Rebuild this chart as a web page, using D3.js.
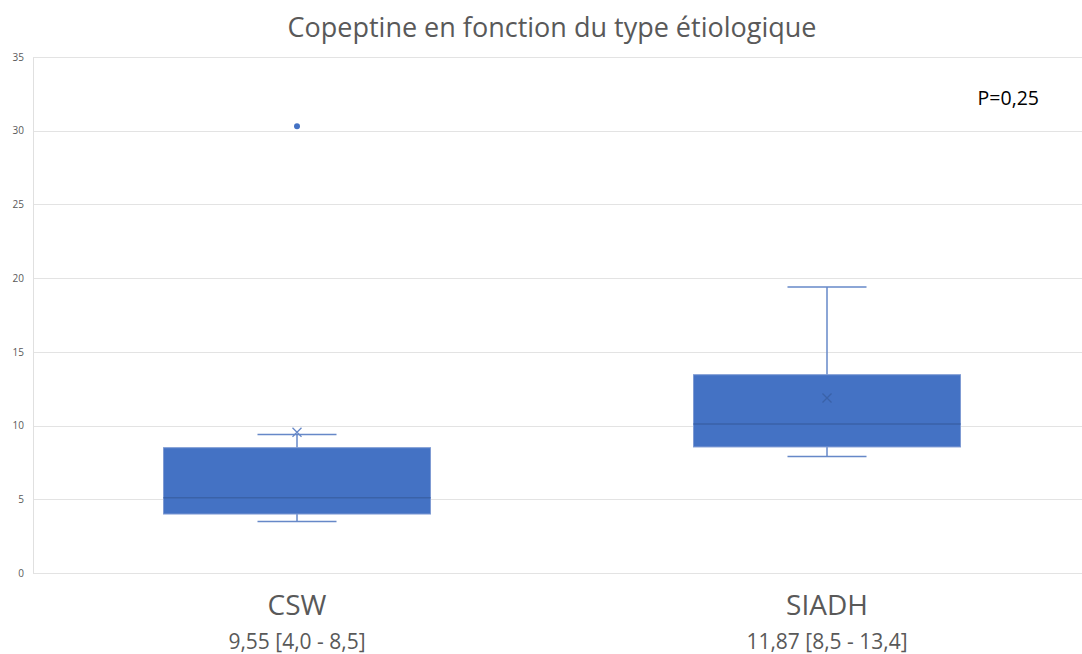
<!DOCTYPE html>
<html>
<head>
<meta charset="utf-8">
<script src="https://cdnjs.cloudflare.com/ajax/libs/d3/7.8.5/d3.min.js"></script>
<style>
  body { margin: 0; background: #fff; }
  text { font-family: "Open Sans", "Noto Sans", sans-serif; }
</style>
</head>
<body>
<div id="chart"></div>
<script>

var svgWidth = 1082;
var svgHeight = 654;

var margin = { top: 57, right: 0, bottom: 81, left: 33 };
var width = svgWidth - margin.left - margin.right;
var height = svgHeight - margin.top - margin.bottom;

// data
var categories = ["CSW", "SIADH"];
var subLabels = ["9,55 [4,0 - 8,5]", "11,87 [8,5 - 13,4]"];
var whiskerLow = [3.5, 7.9];
var q1 = [4.0, 8.55];
var medians = [5.1, 10.1];
var q3 = [8.5, 13.45];
var whiskerHigh = [9.4, 19.4];
var means = [9.55, 11.87];
var outliers = [[30.3], []];
var yTicks = [0, 5, 10, 15, 20, 25, 30, 35];

var boxColor = "#4472c4";
var lineColor = "#6688c8";

var svg = d3.select("#chart")
  .append("svg")
  .attr("width", svgWidth)
  .attr("height", svgHeight);

var chartGroup = svg.append("g")
  .attr("transform", `translate(${margin.left}, ${margin.top})`);

var xScale = d3.scaleBand()
  .domain(categories)
  .range([0, 1060])
  .paddingInner(0)
  .paddingOuter(0);

var yScale = d3.scaleLinear()
  .domain([0, 35])
  .range([height, 0]);

// gridlines
chartGroup.append("g")
  .selectAll("line")
  .data(yTicks)
  .enter()
  .append("line")
  .attr("x1", 0)
  .attr("x2", width)
  .attr("y1", d => Math.round(yScale(d)) + 0.5)
  .attr("y2", d => Math.round(yScale(d)) + 0.5)
  .attr("stroke", "#e3e3e3")
  .attr("stroke-width", 1);

// left axis
var leftAxis = d3.axisLeft(yScale).tickValues(yTicks).tickSize(0).tickPadding(9);
var yAxis = chartGroup.append("g").call(leftAxis);
yAxis.select(".domain").attr("stroke", "#e0e0e0");
yAxis.selectAll("text")
  .style("font-size", "10px")
  .style("fill", "#595959");

// title
svg.append("text")
  .attr("x", 552)
  .attr("y", 37)
  .attr("text-anchor", "middle")
  .style("font-size", "27px")
  .style("fill", "#595959")
  .text("Copeptine en fonction du type étiologique");

svg.append("text")
  .attr("x", 1039)
  .attr("y", 105)
  .attr("text-anchor", "end")
  .style("font-size", "19.5px")
  .style("fill", "#000")
  .text("P=0,25");

var boxWidth = 267;
var capWidth = 79;

categories.forEach(function(cat, i) {
  var cx = Math.round(xScale(cat) + xScale.bandwidth() / 2) - 1;
  var g = chartGroup.append("g");

  // whiskers
  g.append("line")
    .attr("x1", cx).attr("x2", cx)
    .attr("y1", yScale(whiskerHigh[i])).attr("y2", yScale(q3[i]))
    .attr("stroke", lineColor).attr("stroke-width", 1.5);
  g.append("line")
    .attr("x1", cx).attr("x2", cx)
    .attr("y1", yScale(q1[i])).attr("y2", yScale(whiskerLow[i]))
    .attr("stroke", lineColor).attr("stroke-width", 1.5);
  [whiskerHigh[i], whiskerLow[i]].forEach(function(v) {
    g.append("line")
      .attr("x1", cx - capWidth / 2).attr("x2", cx + capWidth / 2)
      .attr("y1", yScale(v)).attr("y2", yScale(v))
      .attr("stroke", lineColor).attr("stroke-width", 1.5);
  });

  // box
  g.append("rect")
    .attr("x", cx - boxWidth / 2)
    .attr("y", yScale(q3[i]))
    .attr("width", boxWidth)
    .attr("height", yScale(q1[i]) - yScale(q3[i]))
    .attr("fill", boxColor)
    .attr("stroke", "#7f9bd3")
    .attr("stroke-width", 1);

  // median
  g.append("line")
    .attr("x1", cx - boxWidth / 2).attr("x2", cx + boxWidth / 2)
    .attr("y1", yScale(medians[i])).attr("y2", yScale(medians[i]))
    .attr("stroke", "#3a62a8").attr("stroke-width", 1.5);

  // mean marker
  var my = yScale(means[i]);
  var s = 4.5;
  g.append("path")
    .attr("d", `M${cx - s},${my - s}L${cx + s},${my + s}M${cx - s},${my + s}L${cx + s},${my - s}`)
    .attr("stroke", i === 0 ? lineColor : "#3a62a8")
    .attr("stroke-width", 1.3)
    .attr("fill", "none");

  // outliers
  outliers[i].forEach(function(v) {
    g.append("circle")
      .attr("cx", cx).attr("cy", yScale(v))
      .attr("r", 3)
      .attr("fill", boxColor);
  });

  // category labels
  g.append("text")
    .attr("x", cx)
    .attr("y", height + 42)
    .attr("text-anchor", "middle")
    .style("font-size", "28px")
    .style("fill", "#595959")
    .text(cat);

  g.append("text")
    .attr("x", cx)
    .attr("y", height + 76)
    .attr("text-anchor", "middle")
    .style("font-size", "21px")
    .style("fill", "#595959")
    .text(subLabels[i]);
});

</script>
</body>
</html>
